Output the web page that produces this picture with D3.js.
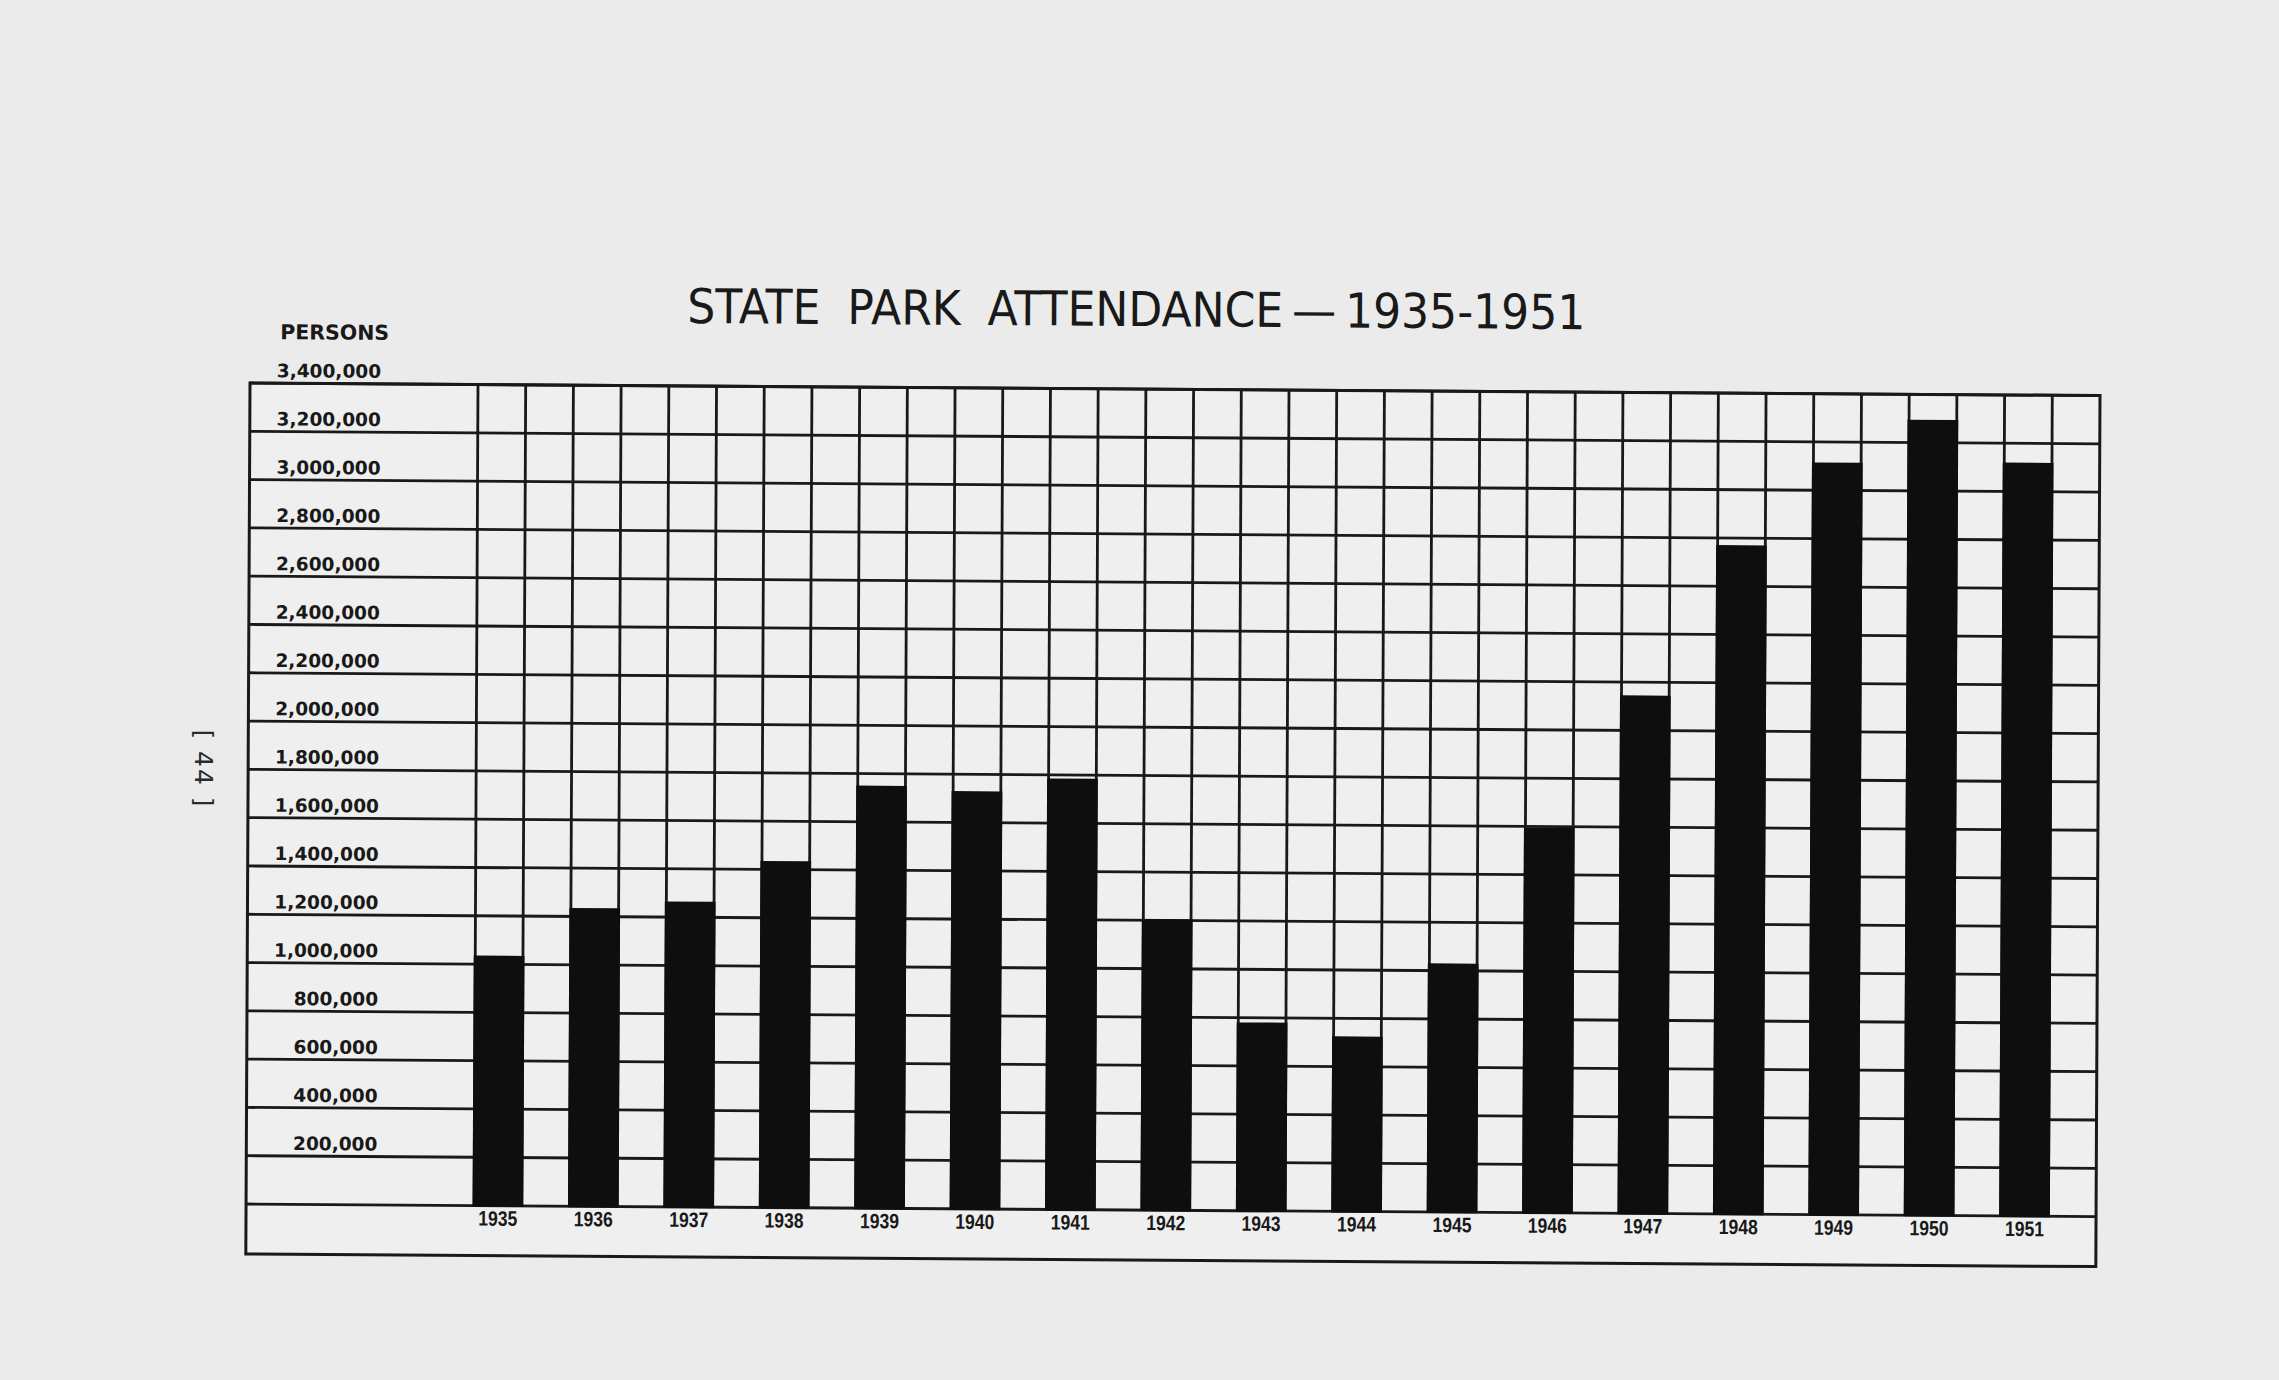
<!DOCTYPE html>
<html>
<head>
<meta charset="utf-8">
<script src="https://cdn.jsdelivr.net/npm/d3@7"></script>
<style>
  html, body { margin: 0; padding: 0; background: #ebebeb; }
  svg { display: block; }
</style>
</head>
<body>
<div id="chart"></div>
<script>
const years = ["1935","1936","1937","1938","1939","1940","1941","1942","1943",
  "1944","1945","1946","1947","1948","1949","1950","1951"];
const attendance = [1035000, 1235000, 1265000, 1435000, 1750000, 1730000, 1785000,
  1205000, 780000, 725000, 1030000, 1595000, 2145000, 2770000, 3115000, 3295000, 3120000];
const tickValues = [0, 200000, 400000, 600000, 800000, 1000000, 1200000, 1400000,
  1600000, 1800000, 2000000, 2200000, 2400000, 2600000, 2800000, 3000000, 3200000, 3400000];
const titleText = "STATE PARK ATTENDANCE\u2009\u2014\u20091935-1951";
const unitLabel = "PERSONS";
const pageNote = "[ 44 ]";

const dataset = years.map((yr, i) => ({ year: yr, value: attendance[i] }));

let dimensions = {
  width: 2279,
  height: 1380,
  frame: { left: 250, top: 383, right: 2100, bottom: 1254 },
  plotLeft: 478,
  zeroY: 1204
};

const ink = "#191919";

const svg = d3.select("#chart")
  .append("svg")
  .attr("width", dimensions.width)
  .attr("height", dimensions.height);

// the photographed sheet sits a little crooked: small shear both ways
const shx = -0.0048, shy = 0.0068;
const ctr = svg.append("g")
  .attr("transform", `matrix(1, ${shy}, ${shx}, 1, ${-shx * dimensions.frame.top}, ${-shy * dimensions.frame.left})`);

const y = d3.scaleLinear()
  .domain([0, d3.max(tickValues)])
  .range([dimensions.zeroY, dimensions.frame.top]);

const x = d3.scaleBand()
  .domain(years)
  .range([dimensions.plotLeft, dimensions.frame.right])
  .paddingInner(0.5)
  .paddingOuter(0.25)
  .align(0);

const bw = x.bandwidth();

// paper
ctr.append("rect")
  .attr("x", dimensions.frame.left)
  .attr("y", dimensions.frame.top)
  .attr("width", dimensions.frame.right - dimensions.frame.left)
  .attr("height", dimensions.frame.bottom - dimensions.frame.top)
  .attr("fill", "#efefef");

// horizontal rules
ctr.append("g")
  .selectAll("line")
  .data(tickValues)
  .join("line")
    .attr("x1", dimensions.frame.left)
    .attr("x2", dimensions.frame.right)
    .attr("y1", d => y(d))
    .attr("y2", d => y(d))
    .attr("stroke", ink)
    .attr("stroke-width", 2.8);

// column rules: both edges of every bar
const edges = years.flatMap(yr => [x(yr), x(yr) + bw]);
ctr.append("g")
  .selectAll("line")
  .data(edges)
  .join("line")
    .attr("x1", d => d)
    .attr("x2", d => d)
    .attr("y1", y(d3.max(tickValues)))
    .attr("y2", y(0))
    .attr("stroke", ink)
    .attr("stroke-width", 2.8);

// bars
ctr.append("g")
  .selectAll("rect")
  .data(dataset)
  .join("rect")
    .attr("x", d => x(d.year) - 1.5)
    .attr("y", d => y(d.value))
    .attr("width", bw + 3)
    .attr("height", d => y(0) - y(d.value) + 1)
    .attr("fill", "#0e0e0e");

// outer frame
ctr.append("rect")
  .attr("x", dimensions.frame.left)
  .attr("y", dimensions.frame.top)
  .attr("width", dimensions.frame.right - dimensions.frame.left)
  .attr("height", dimensions.frame.bottom - dimensions.frame.top)
  .attr("fill", "none")
  .attr("stroke", ink)
  .attr("stroke-width", 3);

// value labels sit just above their rule
ctr.append("g")
  .attr("text-anchor", "end")
  .attr("font-family", "'DejaVu Sans', sans-serif")
  .attr("font-weight", "bold")
  .attr("font-size", 18.5)
  .attr("fill", ink)
  .selectAll("text")
  .data(tickValues.filter(d => d > 0))
  .join("text")
    .attr("x", 381)
    .attr("y", d => y(d) - 6)
    .text(d => d3.format(",")(d));

// years under the bars
ctr.append("g")
  .attr("text-anchor", "middle")
  .attr("font-family", "'Liberation Sans', Arial, sans-serif")
  .attr("font-weight", "bold")
  .attr("font-size", 21)
  .attr("fill", ink)
  .selectAll("text")
  .data(years)
  .join("text")
    .attr("x", d => x(d) + bw / 2)
    .attr("y", 1224)
    .attr("textLength", 39)
    .attr("lengthAdjust", "spacingAndGlyphs")
    .text(d => d);

ctr.append("text")
  .attr("x", 280)
  .attr("y", 339)
  .attr("font-family", "'DejaVu Sans', sans-serif")
  .attr("font-weight", "bold")
  .attr("font-size", 20.5)
  .attr("fill", ink)
  .text(unitLabel);

ctr.append("text")
  .attr("x", 687)
  .attr("y", 320)
  .attr("font-family", "'DejaVu Sans', sans-serif")
  .attr("font-size", 48)
  .attr("word-spacing", 14)
  .attr("textLength", 898)
  .attr("lengthAdjust", "spacingAndGlyphs")
  .attr("fill", ink)
  .text(titleText);

svg.append("text")
  .attr("transform", "translate(195, 769) rotate(90)")
  .attr("text-anchor", "middle")
  .attr("font-family", "'DejaVu Sans', sans-serif")
  .attr("font-size", 25)
  .attr("letter-spacing", 2)
  .attr("fill", "#2a2a2a")
  .text(pageNote);
</script>
</body>
</html>
